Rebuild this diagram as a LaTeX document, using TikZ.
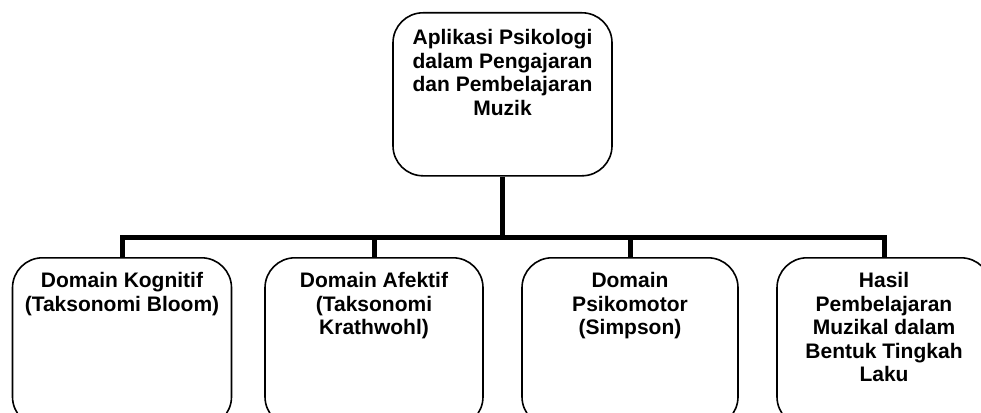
\documentclass[tikz,border=0pt]{standalone}
\usepackage{fontspec}
\setmainfont{Liberation Sans}
\begin{document}
\begin{tikzpicture}[x=1pt,y=-1pt,
  boxstyle/.style={draw=black, line width=1.6pt, rounded corners=30pt, inner sep=0pt, anchor=north},
  conn/.style={draw=black, line width=5pt, line join=miter}]
\useasboundingbox (0,0) rectangle (981,412);
\newcommand{\boxtext}[4]{\parbox[t][#2pt][t]{#1pt}{\centering\bfseries\fontsize{21}{23.5}\selectfont\rule{0pt}{#3pt}#4\par}}
\node[boxstyle] (top) at (502.5,12) {\boxtext{219}{163}{32}{Aplikasi Psikologi\\dalam Pengajaran\\dan Pembelajaran\\Muzik}};
\node[boxstyle] (b1) at (122,257) {\boxtext{219}{169}{30}{Domain Kognitif\\(Taksonomi Bloom)}};
\node[boxstyle] (b2) at (374,257) {\boxtext{218}{169}{30}{Domain Afektif\\(Taksonomi\\Krathwohl)}};
\node[boxstyle] (b3) at (630,257) {\boxtext{216}{169}{30}{Domain\\Psikomotor\\(Simpson)}};
\node[boxstyle] (b4) at (884,257) {\boxtext{214}{169}{30}{Hasil\\Pembelajaran\\Muzikal dalam\\Bentuk Tingkah\\Laku}};
\coordinate (bus) at (502.5,237);
\draw[conn] (top.south) -- (bus);
\draw[conn] (b1.north) -- (b1.north |- bus) -- (b4.north |- bus) -- (b4.north);
\draw[conn] (b2.north) -- (b2.north |- bus);
\draw[conn] (b3.north) -- (b3.north |- bus);
\end{tikzpicture}
\end{document}
